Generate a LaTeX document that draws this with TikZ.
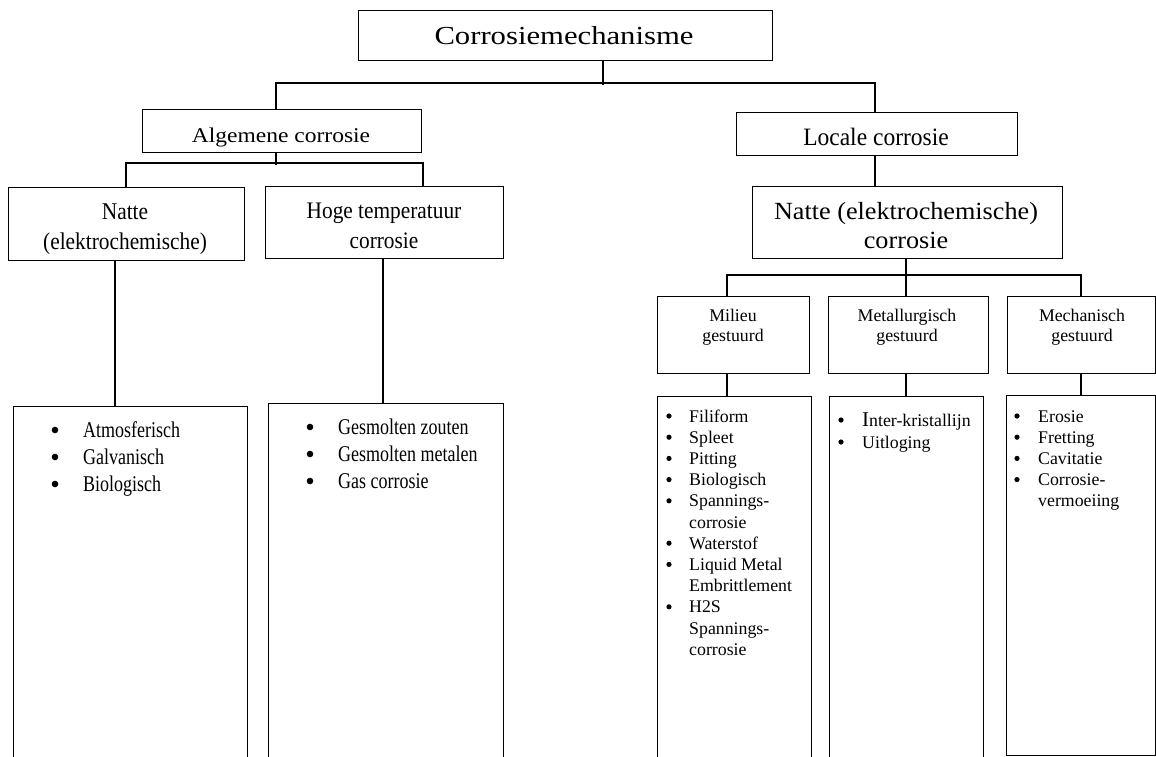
\documentclass[tikz,border=0pt]{standalone}
\usepackage{fontspec}
\setmainfont{Liberation Serif}
\usepackage{graphicx}
% horizontally scaled text
\newcommand{\wx}[2]{\scalebox{#1}[1]{#2}}
\newcommand{\fs}[1]{\fontsize{#1}{#1}\selectfont}
\begin{document}
\begin{tikzpicture}[x=1pt,y=-1pt,
  box/.style={draw, line width=1.4pt, inner sep=0pt, anchor=north west},
  conn/.style={line width=1.1pt},
  lbl/.style={anchor=base, inner sep=0pt},
  item/.style={anchor=base west, inner sep=0pt},
  bigdot/.style={circle, fill, inner sep=0pt, minimum size=6.6pt},
  smalldot/.style={circle, fill, inner sep=0pt, minimum size=5.2pt},
  big/.style={font=\fs{22.5}},
  small/.style={font=\fs{17.8}}]
\useasboundingbox (0,0) rectangle (1156,756);
\fill[white] (0,0) rectangle (1156,756);
\clip (0,0) rectangle (1156,756);

% ---- boxes ----
\node[box, minimum width=414pt, minimum height=50pt] (top) at (358,10) {};
\node[box, minimum width=279pt, minimum height=43pt] (alg) at (142,109) {};
\node[box, minimum width=281pt, minimum height=43pt] (loc) at (736,112) {};
\node[box, minimum width=236pt, minimum height=73pt] (natL) at (8,187) {};
\node[box, minimum width=238pt, minimum height=72pt] (hoge) at (265,186) {};
\node[box, minimum width=310pt, minimum height=72pt] (natR) at (752,186) {};
\node[box, minimum width=152pt, minimum height=77pt] (mil) at (657,296) {};
\node[box, minimum width=160pt, minimum height=77pt] (met) at (828,296) {};
\node[box, minimum width=148pt, minimum height=77pt] (mech) at (1007,296) {};
\node[box, minimum width=234pt, minimum height=420pt] (lstA) at (13,406) {};
\node[box, minimum width=235pt, minimum height=420pt] (lstB) at (268,403) {};
\node[box, minimum width=154pt, minimum height=420pt] (lstM) at (657,396) {};
\node[box, minimum width=154pt, minimum height=420pt] (lstMt) at (829,396) {};
\node[box, minimum width=149pt, minimum height=360pt] (lstMc) at (1006,395) {};

% ---- connectors ----
\coordinate (a1) at (276,83);
\coordinate (a2) at (603,83);
\coordinate (a3) at (875,83);
\coordinate (a2e) at (603,85);
\draw[conn] (a2 |- top.south) -- (a2e);
\draw[conn] (a1 |- alg.north) |- (a3) -- (a3 |- loc.north);

\coordinate (b1) at (126,163);
\coordinate (b2) at (276,163);
\coordinate (b3) at (423,163);
\coordinate (b2e) at (276,165);
\draw[conn] (b2 |- alg.south) -- (b2e);
\draw[conn] (b1 |- natL.north) |- (b3) -- (b3 |- hoge.north);

\coordinate (c1) at (115,0);
\coordinate (c2) at (383,0);
\draw[conn] (c1 |- natL.south) -- (c1 |- lstA.north);
\draw[conn] (c2 |- hoge.south) -- (c2 |- lstB.north);

\coordinate (d1) at (875,0);
\draw[conn] (d1 |- loc.south) -- (d1 |- natR.north);

\coordinate (e1) at (727,275);
\coordinate (e2) at (906,275);
\coordinate (e3) at (1081,275);
\draw[conn] (e2 |- natR.south) -- (e2) -- (e2 |- met.north);
\draw[conn] (e1 |- mil.north) |- (e3) -- (e3 |- mech.north);
\draw[conn] (e1 |- mil.south) -- (e1 |- lstM.north);
\draw[conn] (e2 |- met.south) -- (e2 |- lstMt.north);
\draw[conn] (e3 |- mech.south) -- (e3 |- lstMc.north);

% ---- box titles ----
\node[lbl, font=\fs{26}] (t-top) at (564,44) {\wx{1.18}{Corrosiemechanisme}};
\node[lbl, font=\fs{21}] (t-alg) at (281,142) {\wx{1.12}{Algemene corrosie}};
\node[lbl, font=\fs{25}] (t-loc) at (876,145) {\wx{0.94}{Locale corrosie}};
\node[lbl, font=\fs{24}] (t-natL1) at (125,219) {\wx{0.89}{Natte}};
\node[lbl, font=\fs{24}] (t-natL2) at (125,249) {\wx{0.89}{(elektrochemische)}};
\node[lbl, font=\fs{23.7}] (t-hoge1) at (384,218) {\wx{0.9}{Hoge temperatuur}};
\node[lbl, font=\fs{23.7}] (t-hoge2) at (384,248) {\wx{0.9}{corrosie}};
\node[lbl, font=\fs{24.7}] (t-natR1) at (906,219) {\wx{1.06}{Natte (elektrochemische)}};
\node[lbl, font=\fs{24.7}] (t-natR2) at (906,248) {\wx{1.06}{corrosie}};
\node[lbl, small] (t-mil1) at (733,321) {Milieu};
\node[lbl, small] (t-mil2) at (733,341) {gestuurd};
\node[lbl, small] (t-met1) at (907,321) {Metallurgisch};
\node[lbl, small] (t-met2) at (907,341) {gestuurd};
\node[lbl, small] (t-mech1) at (1082,321) {Mechanisch};
\node[lbl, small] (t-mech2) at (1082,341) {gestuurd};

% ---- list: natte (algemeen) ----
\foreach \y/\txt [count=\i] in {437/Atmosferisch, 464/Galvanisch, 491/Biologisch}{
  \node[bigdot] (ba\i) at (55,\y-7) {};
  \node[item, big] (ia\i) at (83,\y) {\wx{0.8}{\txt}};
}
% ---- list: hoge temperatuur ----
\foreach \y/\txt [count=\i] in {434/Gesmolten zouten, 461/Gesmolten metalen, 488/Gas corrosie}{
  \node[bigdot] (bb\i) at (310,\y-7) {};
  \node[item, big] (ib\i) at (338,\y) {\wx{0.8}{\txt}};
}
% ---- list: milieu gestuurd ----
\foreach \y [count=\i] in {422, 443.2, 464.4, 485.6, 506.8, 549.2, 570.4, 612.8}{
  \node[smalldot] (bm\i) at (669,\y-6) {};
}
\foreach \y/\txt [count=\i] in {422/Filiform, 443.2/Spleet, 464.4/Pitting, 485.6/Biologisch,
  506.8/Spannings-, 528/corrosie, 549.2/Waterstof, 570.4/Liquid Metal,
  591.6/Embrittlement, 612.8/H2S, 634/Spannings-, 655.2/corrosie}{
  \node[item, small] (im\i) at (689,\y) {\txt};
}
% ---- list: metallurgisch gestuurd ----
\node[smalldot] (bt1) at (841,420) {};
\node[item, small] (it1) at (862,426) {{\fs{21}I}nter-kristallijn};
\node[smalldot] (bt2) at (841,442) {};
\node[item, small] (it2) at (862,448) {Uitloging};
% ---- list: mechanisch gestuurd ----
\foreach \y [count=\i] in {422, 443.2, 464.4, 485.6}{
  \node[smalldot] (bc\i) at (1017,\y-6) {};
}
\foreach \y/\txt [count=\i] in {422/Erosie, 443.2/Fretting, 464.4/Cavitatie, 485.6/Corrosie-, 506.8/vermoeiing}{
  \node[item, small] (ic\i) at (1038,\y) {\txt};
}
\end{tikzpicture}
\end{document}
